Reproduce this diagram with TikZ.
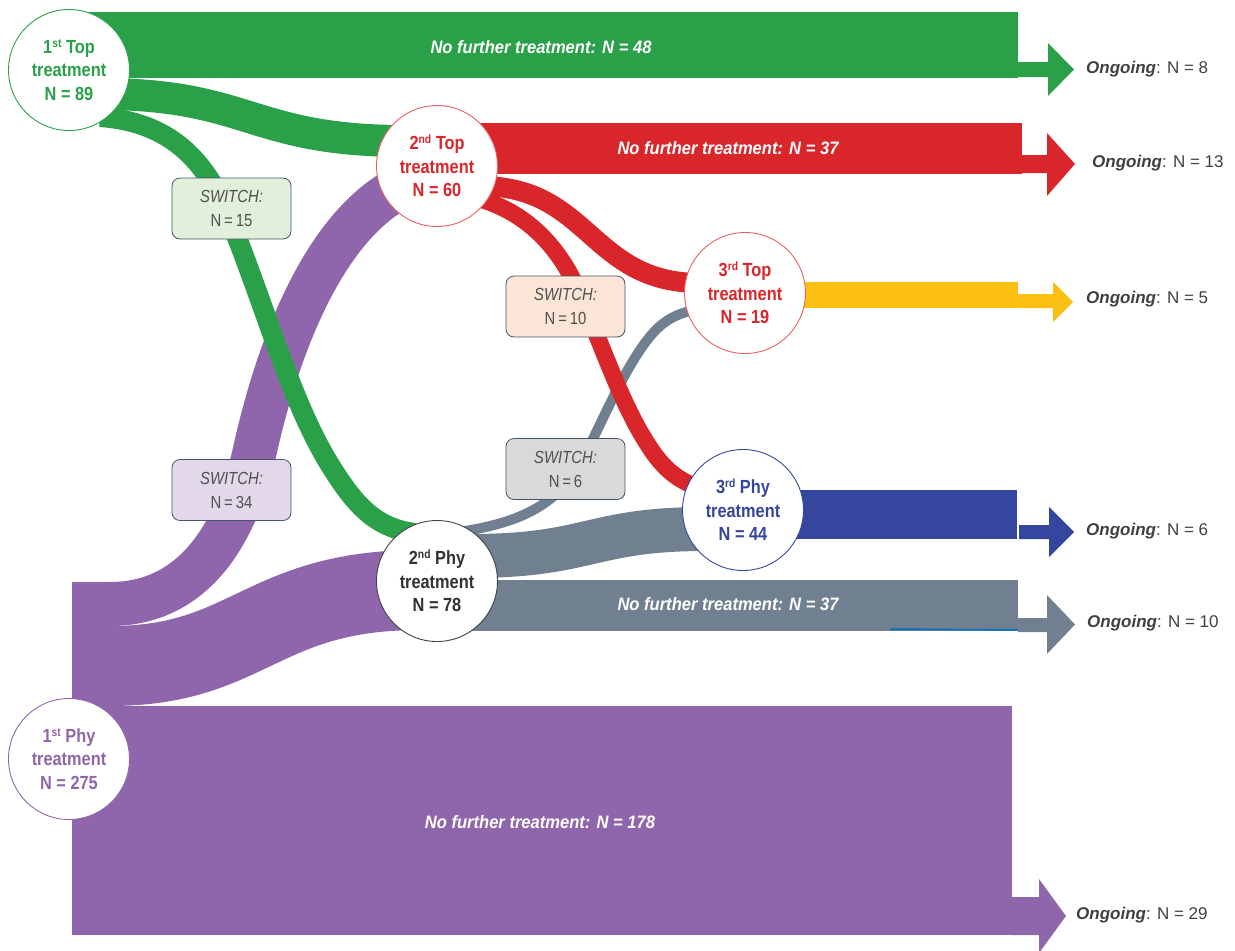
\documentclass[tikz,border=0pt]{standalone}
\usepackage{fontspec}
\setmainfont{Liberation Sans}
\newfontfamily\circfont[FakeStretch=0.86]{Liberation Sans}
\newfontfamily\bandfont[FakeStretch=0.92]{Liberation Sans}
\newfontfamily\boxfont[FakeStretch=0.85, WordSpace=0.7]{Liberation Sans}
\usetikzlibrary{calc}
\definecolor{cgreen}{RGB}{42,161,73}
\definecolor{cred}{RGB}{216,38,43}
\definecolor{lred}{RGB}{232,96,96}
\definecolor{cyellow}{RGB}{252,192,18}
\definecolor{cblue}{RGB}{52,70,158}
\definecolor{cgray}{RGB}{112,128,144}
\definecolor{cpurple}{RGB}{143,102,171}
\definecolor{ctext}{RGB}{64,64,64}
\definecolor{cdark}{RGB}{50,50,50}
\definecolor{swtext}{RGB}{80,80,80}
\definecolor{bgreen}{RGB}{226,239,218}
\definecolor{bpurple}{RGB}{226,216,234}
\definecolor{bpeach}{RGB}{251,229,214}
\definecolor{bgray}{RGB}{217,217,217}
\definecolor{bborder}{RGB}{68,84,106}
\definecolor{artblue}{RGB}{0,112,192}
\newcommand{\supx}[1]{\raisebox{0.62ex}{\fontsize{12}{12}\selectfont #1}}
\begin{document}
\begin{tikzpicture}[x=1pt,y=-1pt,
  circ/.style={circle, draw=#1, line width=0.9pt, fill=white, minimum size=121pt, inner sep=0pt, align=center, text=#1, font=\circfont\bfseries\fontsize{19}{23.5}\selectfont},
  swbox/.style={draw=bborder, fill=#1, line width=0.8pt, rounded corners=8pt, minimum width=119pt, minimum height=61pt, inner sep=0pt, align=center, text=swtext, font=\boxfont\fontsize{17.5}{24}\selectfont},
  bandlbl/.style={text=white, inner sep=0pt, font=\bandfont\bfseries\itshape\fontsize{18}{18}\selectfont},
  ongo/.style={anchor=west, text=ctext, inner sep=0pt, font=\fontsize{17}{17}\selectfont},
  flow/.style={draw=#1, line cap=butt}
]
\useasboundingbox (0,0) rectangle (1235,951);

% ---------- purple flows from 1st Phy ----------
\fill[cpurple] (72,706) rectangle (1012,935);
\fill[cpurple] (72,582) rectangle (112,706);
\draw[flow=cpurple, line width=44pt] (110,604) .. controls (190,604) and (235,540) .. (255,450)
   .. controls (275,360) and (320,225) .. (405,185);
\draw[flow=cpurple, line width=80pt] (110,666) .. controls (250,666) and (260,590) .. (420,590);

% ---------- gray flows from 2nd Phy ----------
\fill[cgray] (470,580) rectangle (1018,631);
\draw[artblue, line width=1.5pt] (890,629) -- (1018,630);
\draw[flow=cgray, line width=44pt] (470,556) .. controls (590,556) and (590,529) .. (705,529);
\draw[flow=cgray, line width=10pt] (465,531) .. controls (520,522) and (560,505) .. (585,455)
   .. controls (605,415) and (620,380) .. (640,350)
   .. controls (655,328) and (668,315) .. (695,310);

% ---------- green flows from 1st Top ----------
\fill[cgreen] (70,12) rectangle (1018,77.5);
\draw[flow=cgreen, line width=32pt] (100,94) .. controls (250,94) and (250,141) .. (405,141);
\draw[flow=cgreen, line width=20pt] (100,117) .. controls (170,122) and (205,160) .. (228,215)
   .. controls (265,305) and (290,400) .. (330,465)
   .. controls (355,505) and (375,528) .. (415,533);

% ---------- red flows from 2nd Top ----------
\fill[cred] (470,123) rectangle (1022,174);
\draw[flow=cred, line width=20pt] (480,186) .. controls (590,186) and (590,283) .. (700,283);
\draw[flow=cred, line width=17pt] (480,199) .. controls (530,214) and (560,250) .. (578,290)
   .. controls (600,340) and (620,400) .. (645,440)
   .. controls (660,465) and (675,480) .. (700,488);

% ---------- third-line bands ----------
\fill[cyellow] (760,282) rectangle (1018,308);
\fill[cblue] (760,490) rectangle (1017,539);

% ---------- ongoing arrows ----------
\fill[cgreen]  (1018,62) -- (1048,62) -- (1048,43) -- (1074,69.5) -- (1048,96) -- (1048,77) -- (1018,77) -- cycle;
\fill[cred]    (1022,155) -- (1047,155) -- (1047,133) -- (1075,164) -- (1047,196) -- (1047,173) -- (1022,173) -- cycle;
\fill[cyellow] (1018,294) -- (1053,294) -- (1053,282) -- (1073,302) -- (1053,322) -- (1053,308) -- (1018,308) -- cycle;
\fill[cblue]   (1019,525) -- (1049,525) -- (1049,507) -- (1074,532) -- (1049,557) -- (1049,539) -- (1019,539) -- cycle;
\fill[cgray]   (1018,618) -- (1047,618) -- (1047,595) -- (1075,624.5) -- (1047,654) -- (1047,632) -- (1018,632) -- cycle;
\fill[cpurple] (1012,897) -- (1039,897) -- (1039,879) -- (1066,916) -- (1039,953) -- (1039,935) -- (1012,935) -- cycle;

% ---------- treatment nodes ----------
\node[circ=cgreen] (T1) at (69,70) {1\supx{st} Top\\treatment\\N = 89};
\node[circ=cred, draw=lred] (T2) at (437,166) {2\supx{nd} Top\\treatment\\N = 60};
\node[circ=cred, draw=lred] (T3) at (745,293) {3\supx{rd} Top\\treatment\\N = 19};
\node[circ=cblue] (P3) at (743,510) {3\supx{rd} Phy\\treatment\\N = 44};
\node[circ=cdark, draw=ctext] (P2) at (437,581) {2\supx{nd} Phy\\treatment\\N = 78};
\node[circ=cpurple] (P1) at (69,759) {1\supx{st} Phy\\treatment\\N = 275};

% ---------- switch boxes ----------
\node[swbox=bgreen]  (S15) at (231.5,208.5) {\textit{SWITCH:}\\N = 15};
\node[swbox=bpurple] (S34) at (231.5,490) {\textit{SWITCH:}\\N = 34};
\node[swbox=bpeach]  (S10) at (565.5,306.5) {\textit{SWITCH:}\\N = 10};
\node[swbox=bgray]   (S6)  at (565.5,469) {\textit{SWITCH:}\\N = 6};

% ---------- band labels ----------
\node[bandlbl] (L48) at (541,47) {No further treatment: N = 48};
\node[bandlbl] (L37r) at (728,148) {No further treatment: N = 37};
\node[bandlbl] (L37g) at (728,604) {No further treatment: N = 37};
\node[bandlbl] (L178) at (540,822) {No further treatment: N = 178};

% ---------- ongoing labels ----------
\node[ongo] (O8)  at (1086,69)  {\textbf{\textit{Ongoing}}: N = 8};
\node[ongo] (O13) at (1092,163) {\textbf{\textit{Ongoing}}: N = 13};
\node[ongo] (O5)  at (1086,299) {\textbf{\textit{Ongoing}}: N = 5};
\node[ongo] (O6)  at (1086,531) {\textbf{\textit{Ongoing}}: N = 6};
\node[ongo] (O10) at (1087,623) {\textbf{\textit{Ongoing}}: N = 10};
\node[ongo] (O29) at (1076,915) {\textbf{\textit{Ongoing}}: N = 29};
\end{tikzpicture}
\end{document}
